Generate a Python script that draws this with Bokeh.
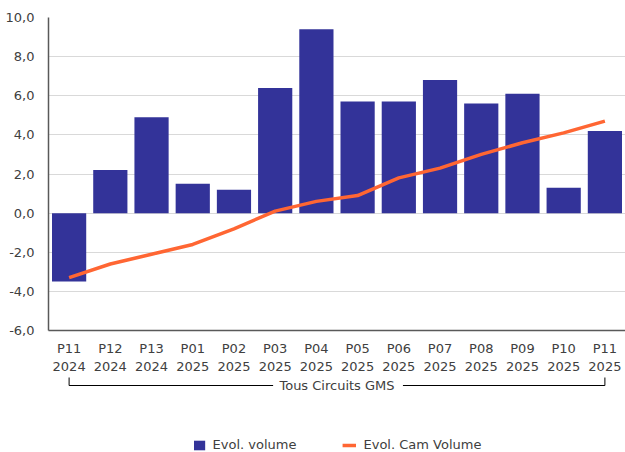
from bokeh.plotting import figure
from bokeh.models import Range1d, FixedTicker, ColumnDataSource, Legend, LegendItem
from bokeh.layouts import column
from bokeh.embed import file_html
from bokeh.resources import INLINE
from bokeh.core.properties import value

# ---- data ----
periods = ["P11", "P12", "P13", "P01", "P02", "P03", "P04",
           "P05", "P06", "P07", "P08", "P09", "P10", "P11"]
years = ["2024", "2024", "2024", "2025", "2025", "2025", "2025",
         "2025", "2025", "2025", "2025", "2025", "2025", "2025"]
evol_volume = [-3.5, 2.2, 4.9, 1.5, 1.2, 6.4, 9.4, 5.7, 5.7, 6.8, 5.6, 6.1, 1.3, 4.2]
evol_cam_volume = [-3.3, -2.6, -2.1, -1.6, -0.8, 0.1, 0.6, 0.9, 1.8, 2.3, 3.0, 3.6, 4.1, 4.7]
group_label = "Tous Circuits GMS"
series_names = ["Evol. volume", "Evol. Cam Volume"]
y_ticks = [-6, -4, -2, 0, 2, 4, 6, 8, 10]

FONT = "DejaVu Sans"
TXT = "#404040"
BAR = "#333399"
LINE = "#FF6633"

n = len(periods)
idx = list(range(n))
src = ColumnDataSource(dict(x=idx, vol=evol_volume, cam=evol_cam_volume))

W = 625
LEFT = 48
p = figure(width=W, height=376, x_range=Range1d(-0.5, n - 0.5),
           y_range=Range1d(y_ticks[0], y_ticks[-1]),
           output_backend="svg", toolbar_location=None,
           min_border_left=LEFT, min_border_right=0, min_border_top=17, min_border_bottom=0)
p.outline_line_color = None
p.background_fill_color = "white"

p.vbar(x="x", top="vol", width=0.83, source=src, fill_color=BAR, line_color=None)
p.line(x="x", y="cam", source=src, line_color=LINE, line_width=3.5, line_join="round")

# y axis
p.yaxis.ticker = FixedTicker(ticks=y_ticks)
p.yaxis.major_label_overrides = {t: f"{t:.1f}".replace(".", ",") for t in y_ticks}
p.yaxis.major_tick_line_color = None
p.yaxis.minor_tick_line_color = None
p.yaxis.axis_line_color = "#595959"
p.yaxis.axis_line_width = 1.5
p.yaxis.major_label_standoff = 8

# x axis
p.xaxis.ticker = FixedTicker(ticks=idx)
p.xaxis.major_label_overrides = {i: f"{periods[i]}\n{years[i]}" for i in idx}
p.xaxis.major_tick_line_color = None
p.xaxis.minor_tick_line_color = None
p.xaxis.axis_line_color = "#595959"
p.xaxis.axis_line_width = 1.5
p.xaxis.major_label_standoff = 4

for ax in (p.xaxis, p.yaxis):
    ax.major_label_text_font = FONT
    ax.major_label_text_font_size = "13px"
    ax.major_label_text_color = TXT

p.xgrid.visible = False
p.ygrid.ticker = FixedTicker(ticks=y_ticks)
p.ygrid.grid_line_color = "#d9d9d9"

# ---- bottom strip: group bracket + legend ----
H2 = 76
p2 = figure(width=W, height=H2, x_range=p.x_range, y_range=Range1d(H2, 0),
            output_backend="svg", toolbar_location=None,
            x_axis_type=None, y_axis_type=None,
            min_border_left=LEFT, min_border_right=0, min_border_top=0, min_border_bottom=0)
p2.outline_line_color = None
p2.grid.visible = False

first, last = idx[0], idx[-1]
mid = (first + last) / 2
p2.multi_line(xs=[[first, first, mid - 1.55], [mid + 1.6, last, last]],
              ys=[[1, 9, 9], [9, 9, 1]], line_color="black", line_width=1)
p2.text(x=[mid], y=[9], text=[group_label], text_align="center",
        text_baseline="middle", text_font=value(FONT), text_font_size="13px",
        text_color=TXT)

# legend proxies (zero-size, invisible in the strip)
r1 = p2.vbar(x=[first], top=[0], bottom=[0], width=0.8, fill_color=BAR, line_color=None)
r2 = p2.line(x=[first, first], y=[0, 0], line_color=LINE, line_width=3.5, line_cap="butt")
legend = Legend(items=[LegendItem(label=series_names[0], renderers=[r1]),
                       LegendItem(label=series_names[1], renderers=[r2])],
                orientation="horizontal", location="bottom_center",
                glyph_width=14, glyph_height=12, label_height=14,
                label_standoff=7, spacing=46, padding=0, margin=0,
                border_line_color=None, background_fill_alpha=0,
                label_text_font=FONT, label_text_font_size="13px",
                label_text_color=TXT)
p2.add_layout(legend)

layout = column(p, p2)
open("out.html", "w").write(file_html(layout, INLINE))
